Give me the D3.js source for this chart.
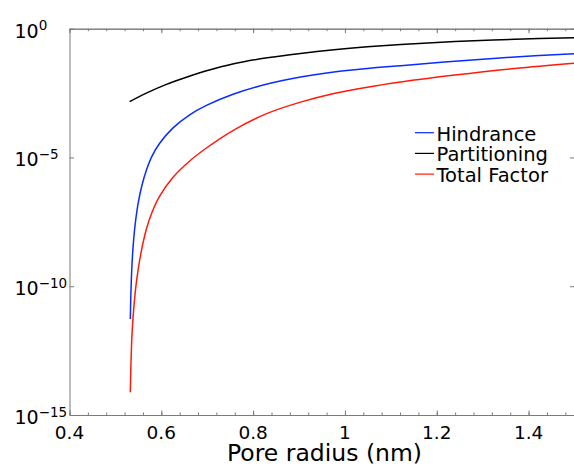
<!DOCTYPE html>
<html>
<head>
<meta charset="utf-8">
<script src="https://cdn.jsdelivr.net/npm/d3@7"></script>
<style>
  body { margin: 0; background: #fff; }
  text { font-family: "DejaVu Sans", sans-serif; fill: #000; }
</style>
</head>
<body>
<svg id="svg" width="574" height="467"></svg>
<script>
// values
const radiusH = [0.5325, 0.5335, 0.535, 0.537, 0.54, 0.544, 0.55, 0.558, 0.568, 0.58, 0.5964, 0.6256, 0.6618, 0.6983, 0.7578, 0.8307, 0.9033, 0.976, 1.0489, 1.1216, 1.2394, 1.3703, 1.5];
const hindrance = [5.37e-12, 3.8e-11, 2.51e-10, 1.35e-9, 7.41e-9, 3.55e-8, 1.86e-7, 8.51e-7, 3.39e-6, 1.15e-5, 3.57e-5, 1.41e-4, 4.54e-4, 1.05e-3, 2.92e-3, 7.08e-3, 1.33e-2, 2.09e-2, 2.85e-2, 3.66e-2, 5.43e-2, 7.98e-2, 0.107];

const radiusP = [0.531, 0.5674, 0.611, 0.6546, 0.6983, 0.7578, 0.8307, 0.9033, 0.976, 1.0489, 1.1216, 1.2394, 1.3703, 1.5];
const partitioning = [1.47e-3, 3.14e-3, 6.9e-3, 1.31e-2, 2.32e-2, 4.35e-2, 7.43e-2, 0.11, 0.152, 0.197, 0.242, 0.316, 0.388, 0.444];

const radiusT = [0.5325, 0.5335, 0.535, 0.537, 0.54, 0.544, 0.55, 0.558, 0.568, 0.58, 0.5964, 0.6256, 0.6618, 0.6983, 0.7578, 0.8307, 0.9033, 0.976, 1.0489, 1.1216, 1.2394, 1.3703, 1.5];
const totalFactor = [7.59e-15, 6.31e-14, 4.47e-13, 2.51e-12, 1.41e-11, 7.94e-11, 5.01e-10, 3.16e-9, 1.78e-8, 7.59e-8, 3.16e-7, 1.7e-6, 7.28e-6, 2.33e-5, 1.16e-4, 5.13e-4, 1.41e-3, 3.05e-3, 5.37e-3, 8.51e-3, 1.58e-2, 2.85e-2, 4.57e-2];

const xTicks = [0.4, 0.6, 0.8, 1, 1.2, 1.4];
const xMinor = d3.range(0.4, 1.501, 0.04);
const yExponents = [0, -5, -10, -15];
const seriesNames = ["Hindrance", "Partitioning", "Total Factor"];
const seriesColors = ["#0a2cff", "#000000", "#ff1a0a"];

const SVG = d3.select("#svg"),
  L = 69.5,
  R = 574.5,
  T = 28.7,
  B = 415,
  AXIS = "#7a7a7a";

var x = d3.scaleLinear().domain([0.4, 1.5]).range([L, R]),
  y = d3.scaleLog().domain([1e-15, 1]).range([B, T]);

SVG.append("rect").attr("width", 574).attr("height", 467).attr("fill", "#fff");

SVG.append("clipPath").attr("id", "clip")
  .append("rect").attr("x", L).attr("y", T).attr("width", R - L).attr("height", B - T);

// axes, ticks pointing inward like the original box
function styleAxis(g) {
  g.select(".domain").attr("stroke", AXIS);
  g.selectAll(".tick line").attr("stroke", AXIS);
  g.selectAll(".tick text").remove();
}
SVG.append("g").attr("transform", `translate(0, ${B})`)
  .call(d3.axisBottom(x).tickValues(xMinor).tickSize(-2.5).tickSizeOuter(0).tickFormat(""))
  .call(styleAxis);
SVG.append("g").attr("transform", `translate(0, ${B})`)
  .call(d3.axisBottom(x).tickValues(xTicks).tickSize(-4.5).tickSizeOuter(0).tickFormat(""))
  .call(styleAxis);
SVG.append("g").attr("transform", `translate(0, ${T})`)
  .call(d3.axisTop(x).tickValues(xMinor).tickSize(-2.5).tickSizeOuter(0).tickFormat(""))
  .call(styleAxis);
SVG.append("g").attr("transform", `translate(0, ${T})`)
  .call(d3.axisTop(x).tickValues(xTicks).tickSize(-4.5).tickSizeOuter(0).tickFormat(""))
  .call(styleAxis);
SVG.append("g").attr("transform", `translate(${L}, 0)`)
  .call(d3.axisLeft(y).tickValues(yExponents.map((e) => 10 ** e)).tickSize(-4.5).tickSizeOuter(0).tickFormat(""))
  .call(styleAxis);
SVG.append("g").attr("transform", `translate(${R}, 0)`)
  .call(d3.axisRight(y).tickValues(yExponents.map((e) => 10 ** e)).tickSize(-4.5).tickSizeOuter(0).tickFormat(""))
  .call(styleAxis);

// tick labels
SVG.append("g").selectAll("text")
  .data(xTicks)
  .join("text")
  .attr("x", (d) => x(d))
  .attr("y", 439)
  .attr("text-anchor", "middle")
  .attr("font-size", 18.5)
  .text((d) => d);

var ylab = SVG.append("g").selectAll("text")
  .data(yExponents)
  .join("text")
  .attr("x", 14.5)
  .attr("y", (d) => y(10 ** d) + 9)
  .attr("font-size", 19);
ylab.append("tspan").text("10");
ylab.append("tspan")
  .attr("dy", -7.5)
  .attr("font-size", 13.5)
  .text((d) => (d < 0 ? "\u2212" + -d : d));

SVG.append("text")
  .attr("x", 324.5)
  .attr("y", 460.5)
  .attr("text-anchor", "middle")
  .attr("font-size", 23.5)
  .text("Pore radius (nm)");

// curves
var line = d3.line()
  .x((d) => x(d[0]))
  .y((d) => y(d[1]))
  .curve(d3.curveCatmullRom.alpha(0.5));

var series = [
  d3.zip(radiusH, hindrance),
  d3.zip(radiusP, partitioning),
  d3.zip(radiusT, totalFactor),
];
SVG.append("g").attr("clip-path", "url(#clip)")
  .selectAll("path")
  .data(series)
  .join("path")
  .attr("fill", "none")
  .attr("stroke", (d, i) => seriesColors[i])
  .attr("stroke-width", 1.5)
  .attr("d", line);

// legend
var leg = SVG.append("g").selectAll("g")
  .data(seriesNames)
  .join("g")
  .attr("transform", (d, i) => `translate(415, ${140.7 + i * 20.7})`);
leg.append("line")
  .attr("x1", 0).attr("x2", 19)
  .attr("y1", -8).attr("y2", -8)
  .attr("stroke", (d, i) => seriesColors[i])
  .attr("stroke-width", 1.2);
leg.append("text")
  .attr("x", 21.5)
  .attr("font-size", 19.5)
  .text((d) => d);
</script>
</body>
</html>
